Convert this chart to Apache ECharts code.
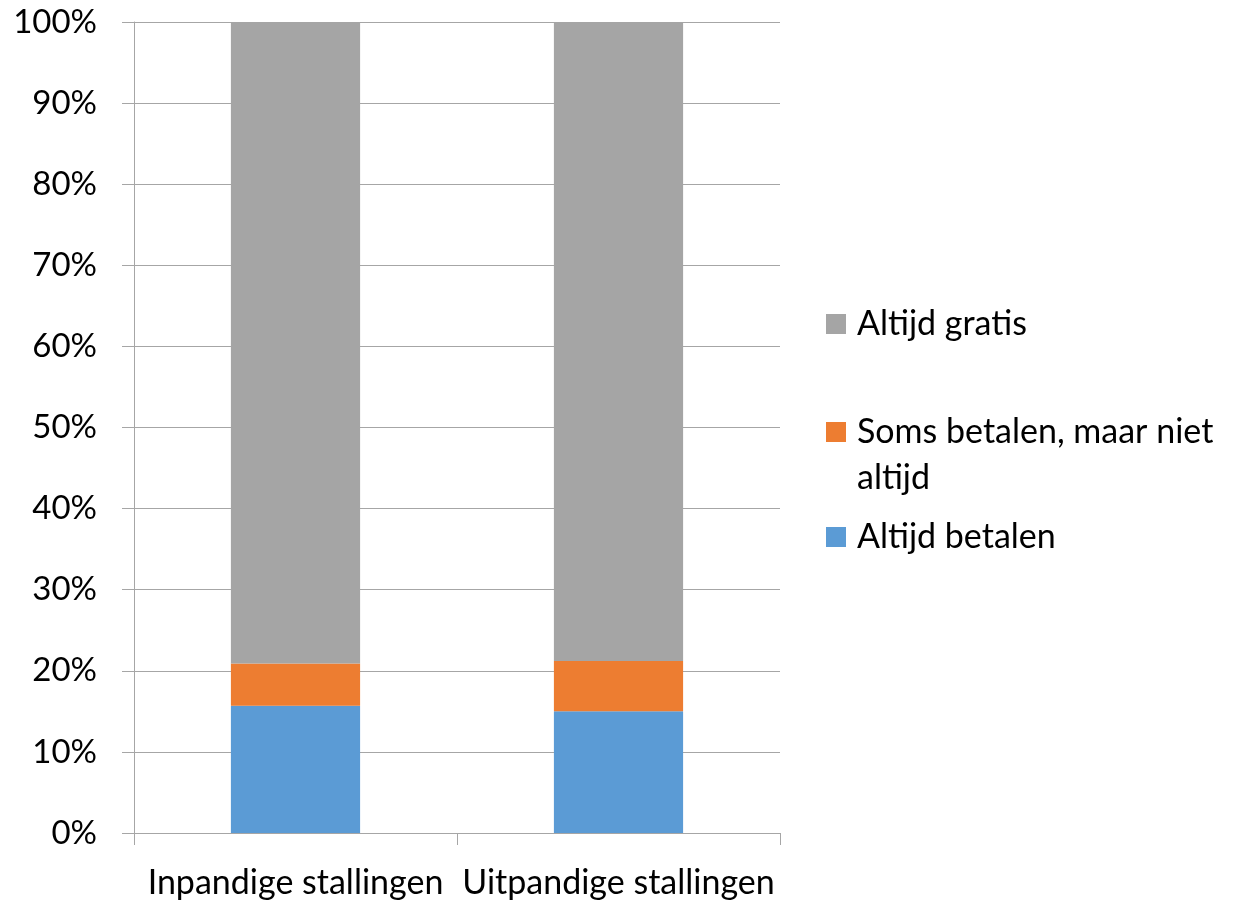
<!DOCTYPE html>
<html>
<head>
<meta charset="utf-8">
<script src="https://cdn.jsdelivr.net/npm/echarts@6/dist/echarts.min.js"></script>
<style>html,body{margin:0;padding:0;background:#fff}#c{width:1234px;height:902px}</style>
</head>
<body>
<div id="c"></div>
<script>
const categories = ['Inpandige stallingen', 'Uitpandige stallingen'];
const altijdBetalen = [15.7, 15.0];
const somsBetalen = [5.2, 6.2];
const altijdGratis = [79.1, 78.8];
const seriesNames = ['Altijd betalen', 'Soms betalen, maar niet altijd', 'Altijd gratis'];
const yTicks = [0, 10, 20, 30, 40, 50, 60, 70, 80, 90, 100];

const FONT = 'Lato';
const FS = 34;
const axisColor = '#a6a6a6';

const chart = echarts.init(document.getElementById('c'));
const legendBase = {
  orient: 'vertical', left: 826, itemWidth: 20, itemHeight: 20, icon: 'rect',
  selectedMode: false, padding: 0
};
chart.setOption({
  animation: false,
  textStyle: { fontFamily: FONT },
  grid: { left: 134, right: 454, top: 22, bottom: 69, containLabel: false },
  legend: [
    Object.assign({}, legendBase, {
      top: 301, data: [seriesNames[2]],
      textStyle: { fontFamily: FONT, fontSize: FS, color: '#000', lineHeight: 46, padding: [0, 0, 0, 6] }
    }),
    Object.assign({}, legendBase, {
      top: 363, data: [seriesNames[1]],
      formatter: () => ' \nSoms betalen, maar niet\naltijd',
      textStyle: { fontFamily: FONT, fontSize: FS, color: '#000', lineHeight: 46, padding: [0, 0, 0, 6] }
    }),
    Object.assign({}, legendBase, {
      top: 514, data: [seriesNames[0]],
      textStyle: { fontFamily: FONT, fontSize: FS, color: '#000', lineHeight: 46, padding: [0, 0, 0, 6] }
    })
  ],
  xAxis: {
    type: 'category', data: categories,
    axisLine: { show: true, lineStyle: { color: axisColor, width: 1 } },
    axisTick: { show: true, length: 12, interval: 0, lineStyle: { color: axisColor } },
    axisLabel: { fontFamily: FONT, fontSize: FS, color: '#000', margin: 33, interval: 0 }
  },
  yAxis: {
    type: 'value', min: 0, max: 100, interval: 10,
    axisLine: { show: true, lineStyle: { color: axisColor, width: 1 } },
    axisTick: { show: true, length: 12, lineStyle: { color: axisColor } },
    splitLine: { show: true, lineStyle: { color: axisColor, width: 1 } },
    axisLabel: { fontFamily: FONT, fontSize: 33, color: '#000', margin: 37, formatter: v => v + '%' }
  },
  series: [
    { name: seriesNames[0], type: 'bar', stack: 'a', data: altijdBetalen, barWidth: '40%', itemStyle: { color: '#5b9bd5' } },
    { name: seriesNames[1], type: 'bar', stack: 'a', data: somsBetalen, barWidth: '40%', itemStyle: { color: '#ed7d31' } },
    { name: seriesNames[2], type: 'bar', stack: 'a', data: altijdGratis, barWidth: '40%', itemStyle: { color: '#a5a5a5' } }
  ]
});
</script>
</body>
</html>
